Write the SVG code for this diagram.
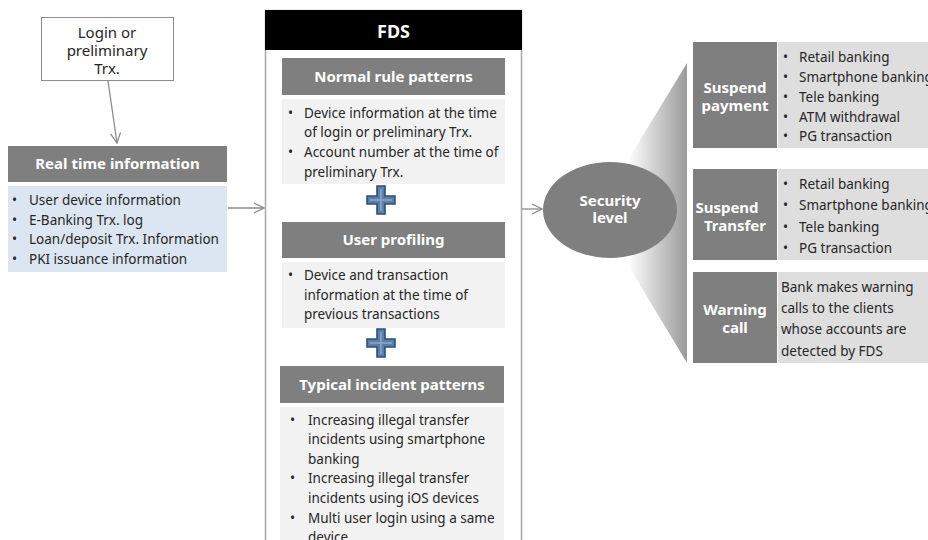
<svg xmlns="http://www.w3.org/2000/svg" width="928" height="540" viewBox="0 0 928 540">
  <defs>
    <marker id="arrow" viewBox="0 0 12 12" refX="11" refY="6" markerWidth="12" markerHeight="12" markerUnits="userSpaceOnUse" orient="auto">
      <path d="M1,1 L11,6 L1,11" fill="none" stroke="#8c8c8c" stroke-width="1.3"/>
    </marker>
    <linearGradient id="fan" x1="0" y1="0" x2="1" y2="0">
      <stop offset="0" stop-color="#ffffff"/>
      <stop offset="1" stop-color="#9a9a9a"/>
    </linearGradient>
    <g id="plus">
      <path d="M-4,-14 H4 V-4 H14 V4 H4 V14 H-4 V4 H-14 V-4 H-4 Z" fill="#5b7fa9" stroke="#2f4f7a" stroke-width="1.6"/>
      <path d="M0,-11 V11 M-11,0 H11" stroke="#8ea9c9" stroke-width="1.5"/>
    </g>
  </defs>
  <style>
    text { font-family: "Noto Sans", "Liberation Sans", sans-serif; }
    .hdr { fill: #7f7f7f; }
    .hdrT { fill: #ffffff; font-size: 15px; font-weight: bold; text-anchor: middle; }
    .body { fill: #262626; font-size: 13.5px; }
    .pale { fill: #f2f2f2; }
    .blue { fill: #dce6f2; }
    .side { fill: #dedede; }
    .conn { fill: none; stroke: #8c8c8c; stroke-width: 1.3; }
  </style>

  <rect width="928" height="540" fill="#ffffff"/>

  <!-- trigger box -->
  <g id="login">
    <rect x="41.5" y="17.5" width="132" height="63" fill="#ffffff" stroke="#8c8c8c" stroke-width="1"/>
    <text x="107" y="38" font-size="15" fill="#262626" text-anchor="middle">Login or</text>
    <text x="107" y="56" font-size="15" fill="#262626" text-anchor="middle">preliminary</text>
    <text x="107" y="74" font-size="15" fill="#262626" text-anchor="middle">Trx.</text>
  </g>

  <!-- real time information -->
  <g id="realtime">
    <rect class="hdr" x="8" y="146" width="219" height="36"/>
    <text class="hdrT" x="117.5" y="169">Real time information</text>
    <rect class="blue" x="8" y="186" width="219" height="86"/>
    <g class="body">
      <text x="12" y="205">•</text><text x="29" y="205">User device information</text>
      <text x="12" y="225">•</text><text x="29" y="225">E-Banking Trx. log</text>
      <text x="12" y="244">•</text><text x="29" y="244">Loan/deposit Trx. Information</text>
      <text x="12" y="264">•</text><text x="29" y="264">PKI issuance information</text>
    </g>
  </g>

  <!-- FDS engine -->
  <g id="fds">
    <rect x="265.5" y="10.5" width="256" height="540" fill="#ffffff" stroke="#a6a6a6" stroke-width="1.5"/>
    <rect x="265" y="10" width="257" height="40" fill="#000000"/>
    <text x="393.5" y="38" fill="#ffffff" font-size="18" font-weight="bold" text-anchor="middle">FDS</text>
  </g>

  <g id="normal-rules">
    <rect class="hdr" x="282" y="58" width="223" height="37"/>
    <text class="hdrT" x="393.5" y="82">Normal rule patterns</text>
    <rect class="pale" x="282" y="99" width="223" height="85"/>
    <g class="body">
      <text x="288" y="118">•</text><text x="304" y="118">Device information at the time</text>
      <text x="304" y="137">of login or preliminary Trx.</text>
      <text x="288" y="157">•</text><text x="304" y="157">Account number at the time of</text>
      <text x="304" y="177">preliminary Trx.</text>
    </g>
  </g>

  <use href="#plus" x="381" y="200"/>

  <g id="user-profiling">
    <rect class="hdr" x="282" y="222" width="223" height="36"/>
    <text class="hdrT" x="393.5" y="245">User profiling</text>
    <rect class="pale" x="282" y="262" width="223" height="66"/>
    <g class="body">
      <text x="288" y="280">•</text><text x="304" y="280">Device and transaction</text>
      <text x="304" y="300">information at the time of</text>
      <text x="304" y="319">previous transactions</text>
    </g>
  </g>

  <use href="#plus" x="381" y="343"/>

  <g id="incident-patterns">
    <rect class="hdr" x="280" y="366" width="224" height="37"/>
    <text class="hdrT" x="392" y="390">Typical incident patterns</text>
    <rect class="pale" x="280" y="407" width="224" height="140"/>
    <g class="body">
      <text x="290" y="425">•</text><text x="308" y="425">Increasing illegal transfer</text>
      <text x="308" y="444">incidents using smartphone</text>
      <text x="308" y="464">banking</text>
      <text x="290" y="483">•</text><text x="308" y="483">Increasing illegal transfer</text>
      <text x="308" y="503">incidents using iOS devices</text>
      <text x="290" y="523">•</text><text x="308" y="523">Multi user login using a same</text>
      <text x="308" y="542">device</text>
    </g>
  </g>

  <!-- fan spreading to the actions -->
  <polygon id="fan-out" points="628,160 687,63 687,363 628,265" fill="url(#fan)"/>

  <g id="security-level">
    <ellipse cx="610" cy="210" rx="67" ry="48" fill="#7f7f7f"/>
    <text class="hdrT" x="610" y="206">Security</text>
    <text class="hdrT" x="610" y="223">level</text>
  </g>

  <g id="suspend-payment">
    <rect class="hdr" x="693" y="42" width="84" height="106"/>
    <text class="hdrT" x="735" y="93">Suspend</text>
    <text class="hdrT" x="735" y="111">payment</text>
    <rect class="side" x="778" y="42" width="150" height="106"/>
    <g class="body">
      <text x="783" y="62">•</text><text x="799" y="62">Retail banking</text>
      <text x="783" y="82">•</text><text x="799" y="82">Smartphone banking</text>
      <text x="783" y="102">•</text><text x="799" y="102">Tele banking</text>
      <text x="783" y="122">•</text><text x="799" y="122">ATM withdrawal</text>
      <text x="783" y="141">•</text><text x="799" y="141">PG transaction</text>
    </g>
  </g>

  <g id="suspend-transfer">
    <rect class="hdr" x="693" y="169" width="84" height="91"/>
    <text class="hdrT" x="727" y="213">Suspend</text>
    <text class="hdrT" x="735" y="231">Transfer</text>
    <rect class="side" x="778" y="169" width="150" height="91"/>
    <g class="body">
      <text x="783" y="189">•</text><text x="799" y="189">Retail banking</text>
      <text x="783" y="210">•</text><text x="799" y="210">Smartphone banking</text>
      <text x="783" y="232">•</text><text x="799" y="232">Tele banking</text>
      <text x="783" y="253">•</text><text x="799" y="253">PG transaction</text>
    </g>
  </g>

  <g id="warning-call">
    <rect class="hdr" x="693" y="272" width="84" height="91"/>
    <text class="hdrT" x="735" y="315">Warning</text>
    <text class="hdrT" x="735" y="333">call</text>
    <rect class="side" x="778" y="272" width="150" height="91"/>
    <g class="body">
      <text x="781" y="292">Bank makes warning</text>
      <text x="781" y="313">calls to the clients</text>
      <text x="781" y="334">whose accounts are</text>
      <text x="781" y="356">detected by FDS</text>
    </g>
  </g>

  <!-- connectors -->
  <g id="connectors">
    <line class="conn" x1="108" y1="81" x2="117" y2="143" marker-end="url(#arrow)"/>
    <line class="conn" x1="228" y1="208" x2="264" y2="208" marker-end="url(#arrow)"/>
    <line class="conn" x1="522" y1="209" x2="542" y2="209" marker-end="url(#arrow)"/>
  </g>
</svg>
